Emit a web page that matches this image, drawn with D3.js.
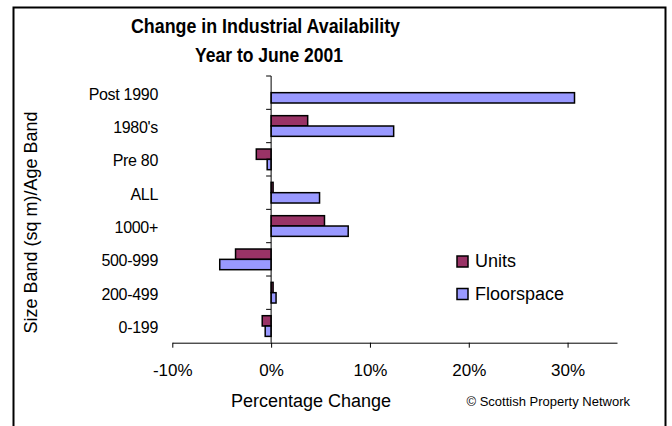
<!DOCTYPE html>
<html>
<head>
<meta charset="utf-8">
<script src="https://cdn.jsdelivr.net/npm/d3@7"></script>
<style>
    body { margin: 0; background: #fff; }
    text { font-family: Arial, "Liberation Sans", sans-serif; fill: #000; }
</style>
</head>
<body>
<div id="chart"></div>
<script>
const categories = ["Post 1990", "1980's", "Pre 80", "ALL", "1000+", "500-999", "200-499", "0-199"];
const seriesNames = ["Units", "Floorspace"];
const units = [0, 3.7, -1.5, 0.2, 5.4, -3.6, 0.2, -0.9];
const floorspace = [30.7, 12.4, -0.4, 4.9, 7.8, -5.2, 0.5, -0.6];
const xTicks = [-10, 0, 10, 20, 30];
const colors = ["#993366", "#9999ff"];

const W = 672, H = 426;
const plot = { left: 172.3, right: 617, top: 76, bottom: 342.7 };

const svg = d3.select("#chart").append("svg")
    .attr("width", W)
    .attr("height", H);

// outer frame
svg.append("rect")
    .attr("x", 13.5).attr("y", 7.5)
    .attr("width", 652).attr("height", 430)
    .attr("fill", "none")
    .attr("stroke", "#000")
    .attr("stroke-width", 2);

// title (the original face is a bit narrower, so squeeze it to the measured width)
svg.append("text")
    .attr("x", 131).attr("y", 33)
    .attr("textLength", 269).attr("lengthAdjust", "spacingAndGlyphs")
    .style("font-size", "20px").style("font-weight", "bold")
    .text("Change in Industrial Availability");
svg.append("text")
    .attr("x", 195).attr("y", 62)
    .attr("textLength", 148).attr("lengthAdjust", "spacingAndGlyphs")
    .style("font-size", "20px").style("font-weight", "bold")
    .text("Year to June 2001");

const x = d3.scaleLinear().domain([-10, 35]).range([plot.left, plot.right]);
const y0 = d3.scaleBand().domain(categories).range([plot.top, plot.bottom])
    .paddingInner(0.38).paddingOuter(0.19);
const y1 = d3.scaleBand().domain(seriesNames).range([0, y0.bandwidth()]);
const yEdge = d3.scaleLinear().domain([0, categories.length]).range([plot.top, plot.bottom]);

const rows = categories.map(function (c, i) {
    return { cat: c, values: [units[i], floorspace[i]] };
});

// bars
const groups = svg.selectAll(".grp")
    .data(rows)
    .enter().append("g")
    .attr("class", "grp")
    .attr("transform", function (d) { return `translate(0,${y0(d.cat)})`; });

groups.selectAll("rect")
    .data(function (d) { return d.values.map(function (v, j) { return { s: seriesNames[j], v: v, j: j }; }); })
    .enter().append("rect")
    .attr("x", function (d) { return x(Math.min(0, d.v)); })
    .attr("y", function (d) { return y1(d.s); })
    .attr("width", function (d) { return Math.abs(x(d.v) - x(0)); })
    .attr("height", y1.bandwidth())
    .attr("fill", function (d) { return colors[d.j]; })
    .attr("stroke", "#000")
    .attr("stroke-width", 1.5);

// x axis
const xAxis = svg.append("g")
    .attr("transform", `translate(0,${plot.bottom})`)
    .call(d3.axisBottom(x).tickValues(xTicks).tickSize(5).tickSizeOuter(0)
        .tickFormat(function (d) { return d + "%"; }));
xAxis.select(".domain").attr("stroke", "#000");
xAxis.selectAll("text")
    .attr("y", 0).attr("dy", 0)
    .attr("transform", "translate(0,33)")
    .style("font-size", "17px")
    .style("font-family", "Arial, 'Liberation Sans', sans-serif");

// y axis line and category boundary ticks
svg.append("line")
    .attr("x1", x(0)).attr("x2", x(0))
    .attr("y1", plot.top).attr("y2", plot.bottom)
    .attr("stroke", "#000");
svg.selectAll(".ytick")
    .data(d3.range(categories.length))
    .enter().append("line")
    .attr("x1", x(0) - 5).attr("x2", x(0))
    .attr("y1", function (d) { return yEdge(d); })
    .attr("y2", function (d) { return yEdge(d); })
    .attr("stroke", "#000");

// category labels
svg.selectAll(".cat")
    .data(categories)
    .enter().append("text")
    .attr("x", 158)
    .attr("y", function (d) { return y0(d) + y0.bandwidth() / 2 + 7; })
    .attr("text-anchor", "end")
    .style("font-size", "16px")
    .style("letter-spacing", "-0.3px")
    .text(function (d) { return d; });

// axis titles
svg.append("text")
    .attr("transform", "translate(37,222.5) rotate(-90)")
    .attr("text-anchor", "middle")
    .style("font-size", "18px")
    .text("Size Band (sq m)/Age Band");
svg.append("text")
    .attr("x", 311).attr("y", 406.5)
    .attr("text-anchor", "middle")
    .style("font-size", "18px")
    .text("Percentage Change");
svg.append("text")
    .attr("x", 466.5).attr("y", 405.5)
    .style("font-size", "13px")
    .text("\u00a9 Scottish Property Network");

// legend
const legend = svg.selectAll(".leg")
    .data(seriesNames)
    .enter().append("g")
    .attr("class", "leg")
    .attr("transform", function (d, i) { return `translate(457,${256 + i * 32.5})`; });
legend.append("rect")
    .attr("width", 11).attr("height", 11)
    .attr("fill", function (d, i) { return colors[i]; })
    .attr("stroke", "#000")
    .attr("stroke-width", 1.5);
legend.append("text")
    .attr("x", 18).attr("y", 11)
    .style("font-size", "18px")
    .text(function (d) { return d; });
</script>
</body>
</html>
